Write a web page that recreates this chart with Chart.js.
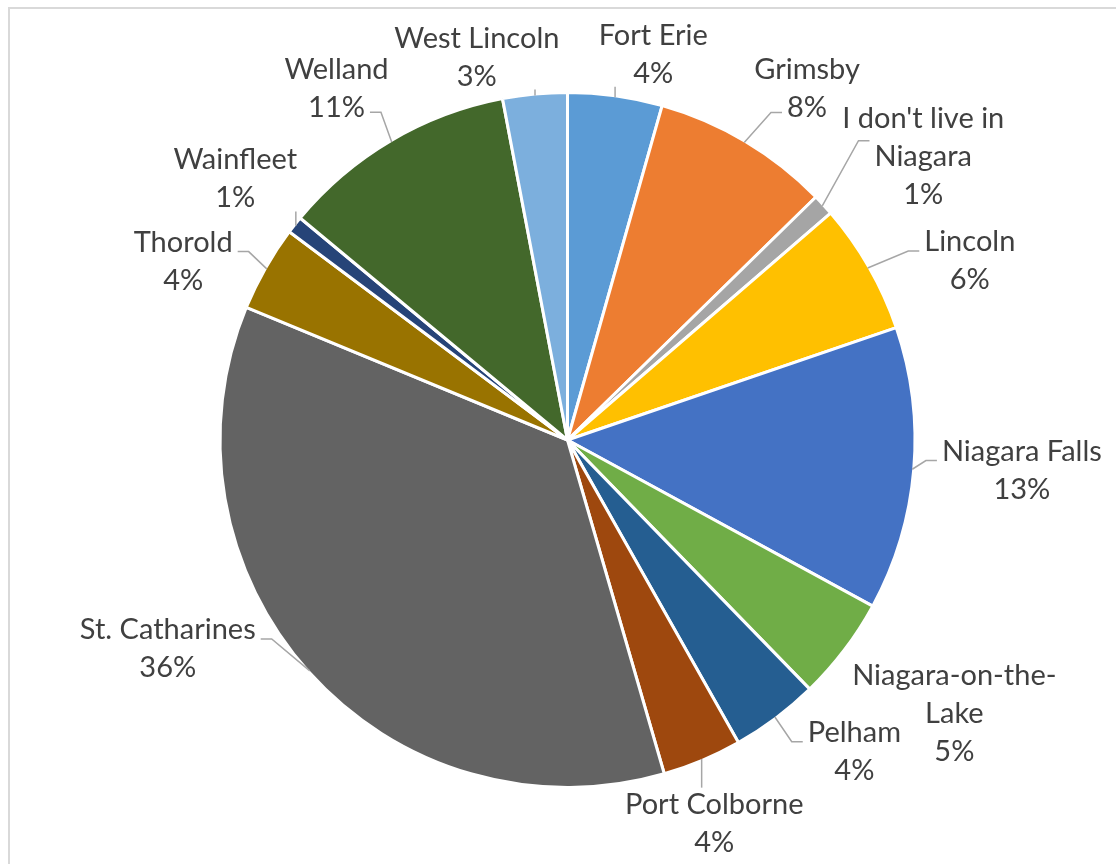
<!DOCTYPE html>
<html>
<head>
<meta charset="utf-8">
<script src="https://cdn.jsdelivr.net/npm/chart.js@4"></script>
<style>
  html, body { margin: 0; padding: 0; background: #fff; overflow: hidden; }
  #frame { position: absolute; left: 8px; top: 7px; width: 1300px; height: 1000px; border: 2px solid #d9d9d9; }
  #wrap { position: absolute; left: 0; top: 0; width: 1116px; height: 864px; }
</style>
</head>
<body>
<div id="frame"></div>
<div id="wrap"><canvas id="chart" width="1116" height="864"></canvas></div>
<script>
// where respondents live (share of responses, %)
const categories = ['Fort Erie', 'Grimsby', "I don't live in Niagara", 'Lincoln', 'Niagara Falls',
  'Niagara-on-the-Lake', 'Pelham', 'Port Colborne', 'St. Catharines', 'Thorold', 'Wainfleet',
  'Welland', 'West Lincoln']
const shares = [4.4, 8.3, 1.0, 6.1, 13.2, 4.8, 4.1, 3.7, 35.8, 4.0, 0.8, 11.0, 3.0]
const colors = ['#5b9bd5', '#ed7d31', '#a5a5a5', '#ffc000', '#4472c4', '#70ad47', '#255e91',
  '#9e480e', '#636363', '#997300', '#264478', '#43682b', '#7cafdd']

// label placement: [angle shift from slice middle (deg), distance / radius, draw leader]
const labelShift = [[4.6, 1.145, true], [3.5, 1.231, true], [3.9, 1.317, true], [5.7, 1.274, true],
  [-1.15, 1.316, true], [-2, 1.368, false], [-5.9, 1.222, true], [1.8, 1.183, true],
  [14.4, 1.302, true], [-4.6, 1.226, true], [0, 1.223, true], [-2.7, 1.218, true], [-7.9, 1.14, true]]

const BORDER = 3
const FONT_SIZE = 29
const CAP = FONT_SIZE * 0.72
const LINE_H = 38
const MAX_W = 225

function wrap (ctx, text, maxW) {
  const parts = []
  text.split(' ').forEach((word, wi) => {
    word.split(/(?<=-)/).forEach((piece, pi) => parts.push({ s: piece, sp: wi > 0 && pi === 0 }))
  })
  const lines = []
  let cur = ''
  parts.forEach(p => {
    const next = cur ? cur + (p.sp ? ' ' : '') + p.s : p.s
    if (cur && ctx.measureText(next).width > maxW) {
      lines.push(cur)
      cur = p.s
    } else cur = next
  })
  if (cur) lines.push(cur)
  return lines
}

const sliceLabels = {
  id: 'sliceLabels',
  afterDatasetsDraw (chart) {
    const ctx = chart.ctx
    const meta = chart.getDatasetMeta(0)
    const total = shares.reduce((a, b) => a + b, 0)
    ctx.save()
    ctx.font = FONT_SIZE + 'px Lato'
    meta.data.forEach((arc, i) => {
      const p = arc.getProps(['x', 'y', 'startAngle', 'endAngle', 'outerRadius'], true)
      const r = p.outerRadius - BORDER / 2
      const mid = (p.startAngle + p.endAngle) / 2
      const [dDeg, k, leader] = labelShift[i]
      const a = mid + dDeg * Math.PI / 180
      const cx = p.x + Math.cos(a) * r * k
      const cy = p.y + Math.sin(a) * r * k

      const lines = wrap(ctx, categories[i], MAX_W)
      lines.push(Math.round(shares[i] / total * 100) + '%')
      const widths = lines.map(s => ctx.measureText(s).width)
      const maxW = Math.max(...widths)
      const h = (lines.length - 1) * LINE_H + CAP
      const top = cy - h / 2
      const bottom = top + h
      const boxL = cx - maxW / 2
      const boxR = cx + maxW / 2

      // leader line
      const ex = p.x + Math.cos(mid) * r
      const ey = p.y + Math.sin(mid) * r
      ctx.strokeStyle = '#a6a6a6'
      ctx.lineWidth = 1.5
      if (leader) {
        ctx.beginPath()
        if (ex >= boxL && ex <= boxR) {
          const ty = ey < top ? top - 5 : bottom + 4
          ctx.moveTo(ex, ey)
          ctx.lineTo(ex, ty)
        } else {
          const t = ey > bottom + 8 ? 0.92 : (ey < top - 8 ? 0.08 : 0.35)
          const ay = top + t * h
          let li = 0
          let best = Infinity
          lines.forEach((s, j) => {
            const c = top + CAP / 2 + j * LINE_H
            if (Math.abs(c - ay) < best) { best = Math.abs(c - ay); li = j }
          })
          const right = ex < boxL
          const ax = right ? cx - widths[li] / 2 - 5 : cx + widths[li] / 2 + 5
          const bx = right ? ax - 11 : ax + 11
          ctx.moveTo(ex, ey)
          ctx.lineTo(bx, ay)
          ctx.lineTo(ax, ay)
        }
        ctx.stroke()
      }

      ctx.fillStyle = '#404040'
      ctx.textAlign = 'center'
      ctx.textBaseline = 'alphabetic'
      lines.forEach((s, j) => ctx.fillText(s, cx, top + CAP + j * LINE_H))
    })
    ctx.restore()
  }
}

new Chart(document.getElementById('chart'), {
  type: 'pie',
  data: {
    labels: categories,
    datasets: [{
      data: shares,
      backgroundColor: colors,
      borderColor: '#ffffff',
      borderWidth: BORDER
    }]
  },
  options: {
    responsive: false,
    animation: false,
    layout: { padding: { left: 218.5, right: 199.5, top: 91, bottom: 75 } },
    plugins: {
      legend: { display: false },
      tooltip: { enabled: false }
    }
  },
  plugins: [sliceLabels]
})
</script>
</body>
</html>
